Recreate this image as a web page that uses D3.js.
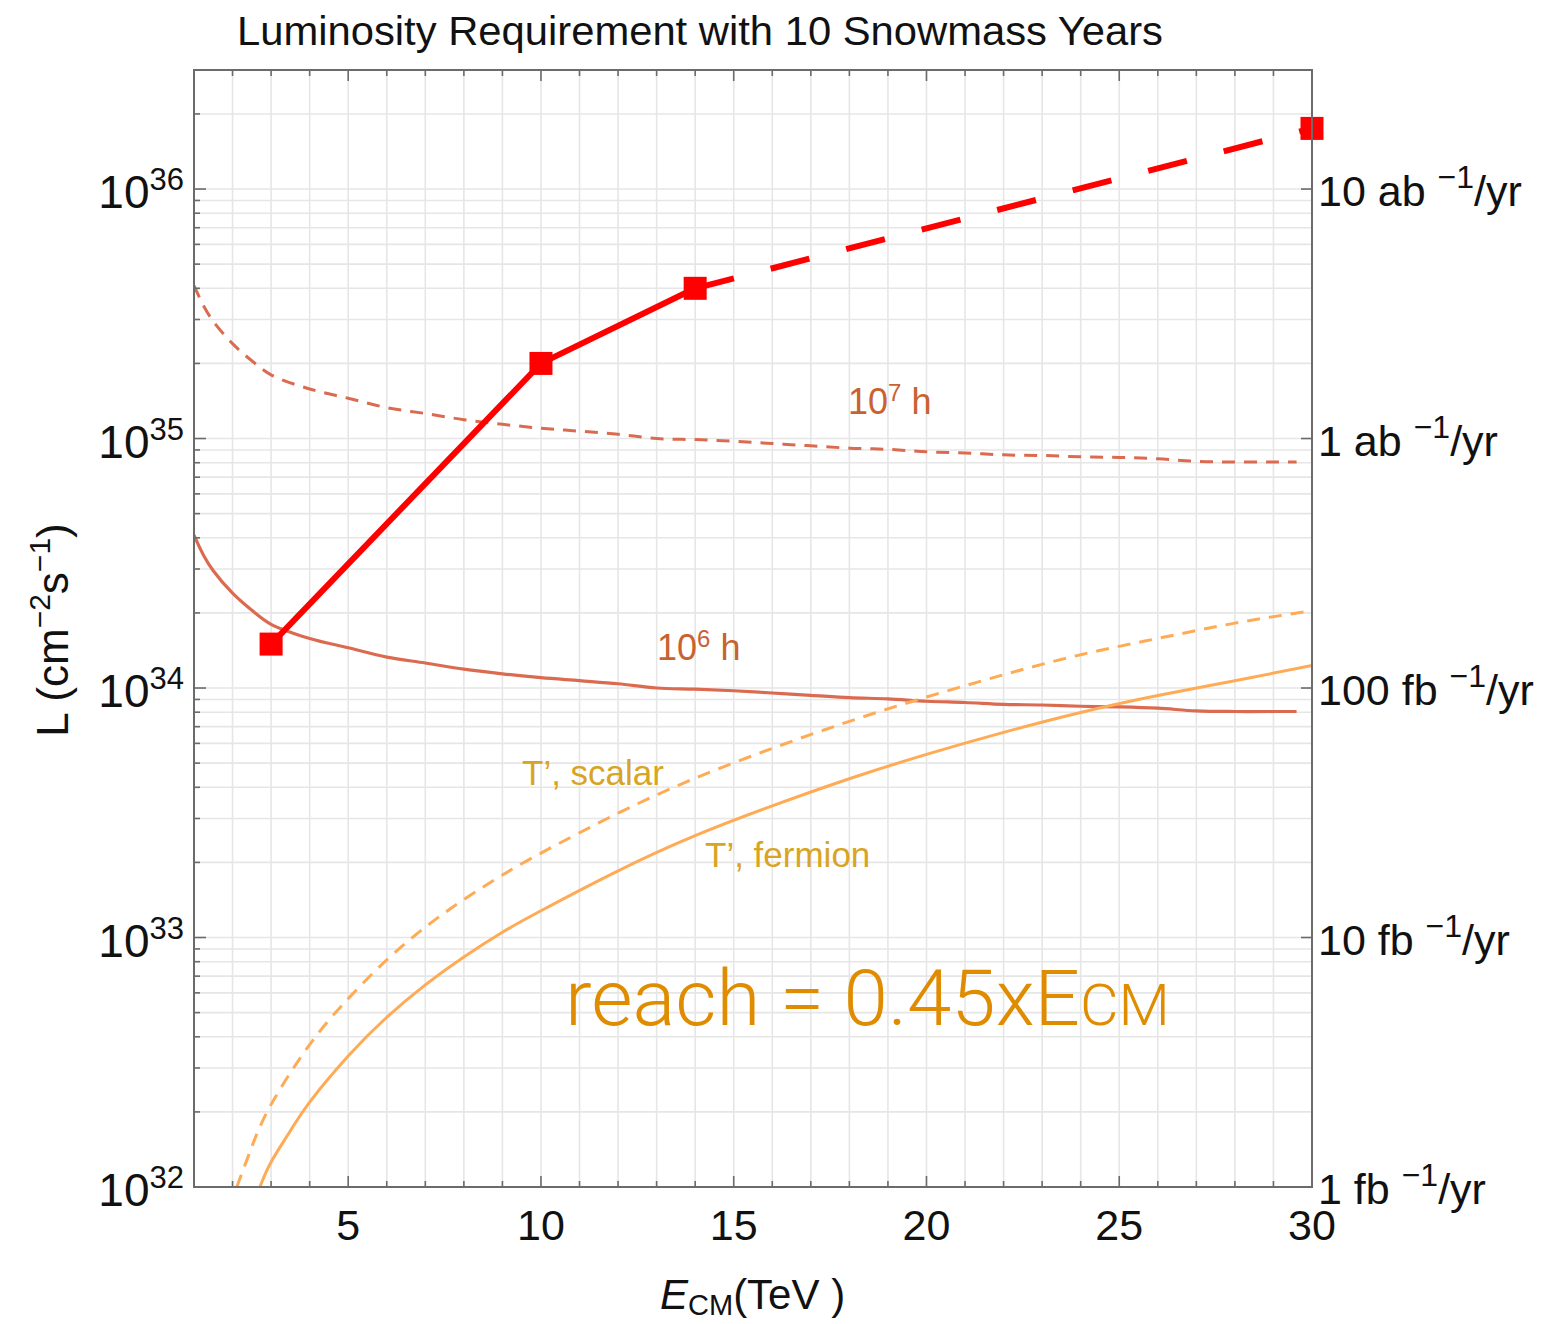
<!DOCTYPE html>
<html>
<head>
<meta charset="utf-8">
<script src="https://cdn.jsdelivr.net/npm/d3@7"></script>
<style>
  body { margin: 0; background: #fff; }
  svg { display: block; }
  text { font-family: "Liberation Sans", Arial, Helvetica, sans-serif; }
</style>
</head>
<body>
<svg id="chart" width="1549" height="1324"></svg>
<script>
// ---- data: centre-of-mass energy (TeV) vs. luminosity (cm^-2 s^-1) ----
const higgs6E = [1, 1.25, 1.5, 2, 2.5, 3, 4, 5, 6, 7, 8, 9, 10, 11, 12, 13, 14, 15, 16, 17, 18, 19, 20, 21, 22, 23, 24, 25, 26, 27, 28, 29, 29.6];
const higgs6L = [4.1e34, 3.4e34, 2.95e34, 2.4e34, 2.05e34, 1.8e34, 1.58e34, 1.45e34, 1.33e34, 1.26e34, 1.19e34, 1.14e34, 1.10e34, 1.07e34, 1.04e34, 1.0e34, 0.99e34, 0.975e34, 0.955e34, 0.935e34, 0.915e34, 0.905e34, 0.885e34, 0.875e34, 0.86e34, 0.855e34, 0.845e34, 0.84e34, 0.83e34, 0.81e34, 0.805e34, 0.805e34, 0.805e34];

const higgs7E = [1, 1.25, 1.5, 2, 2.5, 3, 4, 5, 6, 7, 8, 9, 10, 11, 12, 13, 14, 15, 16, 17, 18, 19, 20, 21, 22, 23, 24, 25, 26, 27, 28, 29, 29.6];
const higgs7L = [4.1e35, 3.4e35, 2.95e35, 2.4e35, 2.05e35, 1.8e35, 1.58e35, 1.45e35, 1.33e35, 1.26e35, 1.19e35, 1.14e35, 1.10e35, 1.07e35, 1.04e35, 1.0e35, 0.99e35, 0.975e35, 0.955e35, 0.935e35, 0.915e35, 0.905e35, 0.885e35, 0.875e35, 0.86e35, 0.855e35, 0.845e35, 0.84e35, 0.83e35, 0.81e35, 0.805e35, 0.805e35, 0.805e35];

const fermionE = [2.71, 3, 3.5, 4, 5, 6, 7, 8, 9, 10, 12, 14, 16, 18, 20, 22, 24, 26, 28, 30];
const fermionL = [1.0e32, 1.26e32, 1.68e32, 2.19e32, 3.35e32, 4.79e32, 6.46e32, 8.36e32, 1.05e33, 1.28e33, 1.85e33, 2.56e33, 3.37e33, 4.33e33, 5.42e33, 6.64e33, 7.98e33, 9.33e33, 1.07e34, 1.23e34];

const scalarE = [2.11, 2.5, 3, 4, 5, 6, 7, 8, 9, 10, 12, 14, 16, 18, 20, 22, 24, 26, 28, 30];
const scalarL = [1.0e32, 1.45e32, 2.14e32, 3.72e32, 5.69e32, 8.13e32, 1.10e33, 1.42e33, 1.78e33, 2.18e33, 3.15e33, 4.35e33, 5.73e33, 7.35e33, 9.2e33, 1.13e34, 1.36e34, 1.58e34, 1.82e34, 2.04e34];

const benchmarkE = [3, 10, 14, 30];
const benchmarkL = [1.5e34, 2.0e35, 4.0e35, 1.75e36];

const decadeExps = [32, 33, 34, 35, 36];
const rateNumbers = ["1", "10", "100", "1", "10"];
const rateUnits = ["fb", "fb", "fb", "ab", "ab"];
const xTickValues = [5, 10, 15, 20, 25, 30];

// ---- layout ----
const svg = d3.select("#chart");
const plot = { left: 194, top: 70, right: 1312, bottom: 1187 };

const x = d3.scaleLinear().domain([1, 30]).range([plot.left, plot.right]);
const y = d3.scaleLog().domain([1e32, 3e36]).range([plot.bottom, plot.top]);

const zip = (xs, ys) => xs.map((v, i) => [v, ys[i]]);
const line = d3.line().x(d => x(d[0])).y(d => y(d[1])).curve(d3.curveCatmullRom.alpha(0.5));
const smooth = d3.line().x(d => x(d[0])).y(d => y(d[1])).curve(d3.curveNatural);
const straight = d3.line().x(d => x(d[0])).y(d => y(d[1]));

svg.append("defs").append("clipPath").attr("id", "plotClip")
  .append("rect")
  .attr("x", plot.left).attr("y", plot.top)
  .attr("width", plot.right - plot.left).attr("height", plot.bottom - plot.top);

// ---- grid ----
const minorY = y.ticks().filter(v => v > 1e32 && v < 3e36);
const xInts = d3.range(2, 30);
const grid = svg.append("g").attr("stroke", "#e6e6e6").attr("stroke-width", 1.6);
grid.selectAll("line.gx").data(xInts).join("line")
  .attr("x1", d => x(d)).attr("x2", d => x(d))
  .attr("y1", plot.top).attr("y2", plot.bottom);
grid.selectAll("line.gy").data(minorY).join("line")
  .attr("y1", d => y(d)).attr("y2", d => y(d))
  .attr("x1", plot.left).attr("x2", plot.right);

// ---- curves ----
const curves = svg.append("g").attr("clip-path", "url(#plotClip)").attr("fill", "none");

curves.append("path").attr("d", line(zip(higgs7E, higgs7L)))
  .attr("stroke", "#db6b50").attr("stroke-width", 3).attr("stroke-dasharray", "13,9");
curves.append("path").attr("d", line(zip(higgs6E, higgs6L)))
  .attr("stroke", "#db6b50").attr("stroke-width", 3.2);
curves.append("path").attr("d", smooth(zip(scalarE, scalarL)))
  .attr("stroke", "#ffab55").attr("stroke-width", 3).attr("stroke-dasharray", "13,9");
curves.append("path").attr("d", smooth(zip(fermionE, fermionL)))
  .attr("stroke", "#ffab55").attr("stroke-width", 3);

const bench = zip(benchmarkE, benchmarkL);
svg.append("path").attr("d", straight(bench.slice(0, 3)))
  .attr("fill", "none").attr("stroke", "#ff0000").attr("stroke-width", 6);
svg.append("path").attr("d", straight(bench.slice(2)))
  .attr("fill", "none").attr("stroke", "#ff0000").attr("stroke-width", 6)
  .attr("stroke-dasharray", "40,38");
const sq = 23;
svg.selectAll("rect.bm").data(bench).join("rect")
  .attr("x", d => x(d[0]) - sq / 2).attr("y", d => y(d[1]) - sq / 2)
  .attr("width", sq).attr("height", sq).attr("fill", "#ff0000");

// ---- frame and ticks ----
const axisColor = "#6b6b6b";
const minorX = d3.range(2, 30);
const isMajorX = v => v % 5 === 0;
const isMajorY = v => Math.abs(Math.log10(v) - Math.round(Math.log10(v))) < 1e-9;

const ticks = svg.append("g").attr("stroke", axisColor).attr("stroke-width", 1.6);
ticks.selectAll("line.tb").data(minorX).join("line")
  .attr("x1", d => x(d)).attr("x2", d => x(d))
  .attr("y1", plot.bottom).attr("y2", d => plot.bottom - (isMajorX(d) ? 11 : 6));
ticks.selectAll("line.tt").data(minorX).join("line")
  .attr("x1", d => x(d)).attr("x2", d => x(d))
  .attr("y1", plot.top).attr("y2", d => plot.top + (isMajorX(d) ? 11 : 6));
ticks.selectAll("line.tl").data(minorY).join("line")
  .attr("y1", d => y(d)).attr("y2", d => y(d))
  .attr("x1", plot.left).attr("x2", d => plot.left + (isMajorY(d) ? 12 : 6));
ticks.selectAll("line.tr").data(decadeExps.slice(1)).join("line")
  .attr("y1", d => y(Math.pow(10, d))).attr("y2", d => y(Math.pow(10, d)))
  .attr("x1", plot.right).attr("x2", plot.right - 11);

svg.append("rect")
  .attr("x", plot.left).attr("y", plot.top)
  .attr("width", plot.right - plot.left).attr("height", plot.bottom - plot.top)
  .attr("fill", "none").attr("stroke", axisColor).attr("stroke-width", 2);

// ---- tick labels ----
const ink = "#111";
svg.selectAll("text.xl").data(xTickValues).join("text")
  .attr("x", d => x(d)).attr("y", 1240)
  .attr("text-anchor", "middle").attr("font-size", 43).attr("fill", ink)
  .text(d => d);

const leftLab = svg.selectAll("text.yl").data(decadeExps).join("text")
  .attr("x", 184).attr("y", d => y(Math.pow(10, d)) + 19)
  .attr("text-anchor", "end").attr("font-size", 46).attr("fill", ink);
leftLab.append("tspan").text("10");
leftLab.append("tspan").attr("font-size", 31).attr("dy", -18).text(d => d);

const rightLab = svg.selectAll("text.yr").data(decadeExps).join("text")
  .attr("x", 1318).attr("y", (d, i) => y(Math.pow(10, d)) + 17)
  .attr("font-size", 43).attr("fill", ink);
rightLab.append("tspan").text((d, i) => rateNumbers[i] + " " + rateUnits[i] + " ");
rightLab.append("tspan").attr("font-size", 32).attr("dy", -18).text("\u22121");
rightLab.append("tspan").attr("dy", 18).text("/yr");

// ---- axis titles ----
svg.append("text")
  .attr("x", 700).attr("y", 45).attr("text-anchor", "middle")
  .attr("font-size", 40).attr("fill", ink)
  .attr("textLength", 926).attr("lengthAdjust", "spacingAndGlyphs")
  .text("Luminosity Requirement with 10 Snowmass Years");

const xt = svg.append("text").attr("x", 660).attr("y", 1309)
  .attr("font-size", 42).attr("fill", ink);
xt.append("tspan").attr("font-style", "italic").text("E");
xt.append("tspan").attr("font-size", 29).attr("dy", 6).text("CM");
xt.append("tspan").attr("dy", -6).text("(TeV )");

const yt = svg.append("text")
  .attr("transform", "translate(68,630) rotate(-90)")
  .attr("text-anchor", "middle").attr("font-size", 44).attr("fill", ink);
yt.append("tspan").text("L (cm");
yt.append("tspan").attr("font-size", 30).attr("dy", -18).text("\u22122");
yt.append("tspan").attr("dy", 18).text("s");
yt.append("tspan").attr("font-size", 30).attr("dy", -18).text("\u22121");
yt.append("tspan").attr("dy", 18).text(")");

// ---- in-plot annotations ----
const hColor = "#c9622f";
const h7 = svg.append("text").attr("x", 848).attr("y", 414).attr("font-size", 36).attr("fill", hColor);
h7.append("tspan").text("10");
h7.append("tspan").attr("font-size", 24).attr("dy", -13).text("7");
h7.append("tspan").attr("dy", 13).text(" h");

const h6 = svg.append("text").attr("x", 657).attr("y", 660).attr("font-size", 36).attr("fill", hColor);
h6.append("tspan").text("10");
h6.append("tspan").attr("font-size", 24).attr("dy", -13).text("6");
h6.append("tspan").attr("dy", 13).text(" h");

const tColor = "#d9a422";
svg.append("text").attr("x", 522).attr("y", 785).attr("font-size", 35).attr("fill", tColor)
  .text("T\u2019, scalar");
svg.append("text").attr("x", 705).attr("y", 867).attr("font-size", 35).attr("fill", tColor)
  .text("T\u2019, fermion");

const reach = svg.append("text").attr("x", 565).attr("y", 1025)
  .attr("font-size", 78).attr("fill", "#e08c00")
  .attr("textLength", 605).attr("lengthAdjust", "spacingAndGlyphs")
  .style("font-family", "Roboto, 'Open Sans', sans-serif").attr("font-weight", 300);
reach.append("tspan").text("reach = 0.45xE");
reach.append("tspan").attr("font-size", 58).text("CM");
</script>
</body>
</html>
